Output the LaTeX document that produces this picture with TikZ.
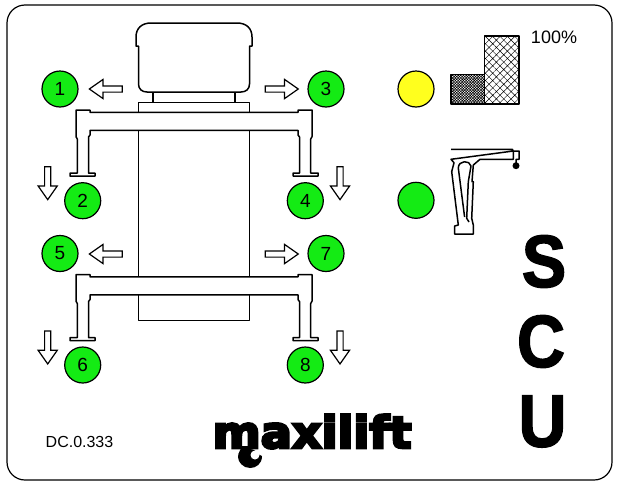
\documentclass[tikz,border=0pt]{standalone}
\usepackage{fontspec}
\setmainfont{Liberation Sans}
\newfontfamily\logofont[FakeBold=6]{DejaVu Sans Bold}
\newfontfamily\scufont[FakeBold=2]{Liberation Sans Bold}
\usetikzlibrary{shapes.arrows,patterns.meta}
\definecolor{lampgreen}{RGB}{20,235,20}
\definecolor{lampyellow}{RGB}{255,255,30}
\tikzset{
  lamp/.style={circle,draw=black,line width=1.2pt,fill=lampgreen,minimum size=36pt,inner sep=0pt,font=\fontsize{19}{19}\selectfont},
  blockarrow/.style={single arrow,draw=black,line width=1.2pt,fill=white,minimum height=33pt,text height=5pt,text depth=0pt,
    single arrow head extend=6.5pt,single arrow tip angle=70,inner sep=0pt,anchor=tip},
  bigletter/.style={inner sep=0pt,xscale=.9,transform shape,font=\fontsize{74}{74}\scufont},
  outline/.style={line width=1.5pt,line join=round}
}
\begin{document}
\begin{tikzpicture}[x=1pt,y=-1pt]
\useasboundingbox (0,0) rectangle (620,485);
\draw[line width=1.2pt,rounded corners=18pt] (7,5) rectangle (612,480);

% chassis
\draw[outline,fill=white] (138.5,46) -- (136,46) -- (136,37) .. controls (136,28) and (142,23) .. (151,23) -- (237,23)
  .. controls (246,23) and (252,28) .. (252,37) -- (252,46) -- (249.5,46) -- (249.5,84)
  .. controls (249.5,89) and (246,92) .. (241,92) -- (147,92) .. controls (142,92) and (138.5,89) .. (138.5,84) -- cycle;
\draw[outline] (153,92) -- (153,102.7) (235,92) -- (235,102.7);
\draw[outline] (138.5,320.7) rectangle (249.5,102.7);

% beams with legs
\foreach \dy in {0,164.5}
\draw[outline,fill=white,shift={(0,\dy)}]
  (90,112.3) -- (90,110) -- (76,110) -- (76,136.7) -- (77.3,139) -- (77.3,173) -- (70,173) -- (70,176)
  -- (95,176) -- (95,173) -- (88.5,173) -- (88.5,137) -- (90,135) -- (90,130.3)
  -- (298,130.3) -- (298,135) -- (299.5,137) -- (299.5,173) -- (293,173) -- (293,176)
  -- (318,176) -- (318,173) -- (310.7,173) -- (310.7,139) -- (312,136.7) -- (312,110) -- (298,110) -- (298,112.3) -- cycle;

% outriggers
\node[lamp] (n1) at (60,89) {1};
\node[lamp] (n2) at (82.7,200.7) {2};
\node[lamp] (n3) at (326,89) {3};
\node[lamp] (n4) at (305.3,200.7) {4};
\node[lamp] (n5) at (60,253.5) {5};
\node[lamp] (n6) at (82.7,365) {6};
\node[lamp] (n7) at (326,253.5) {7};
\node[lamp] (n8) at (305.3,365) {8};

\node[blockarrow,rotate=180] (a1) at (88.3,89) {};
\node[blockarrow] (a3) at (299.3,89) {};
\node[blockarrow,rotate=180] (a5) at (88.3,254) {};
\node[blockarrow] (a7) at (299.3,254) {};
\node[blockarrow,rotate=270] (a2) at (47.7,200.7) {};
\node[blockarrow,rotate=270] (a4) at (340,200.7) {};
\node[blockarrow,rotate=270] (a6) at (47.7,365) {};
\node[blockarrow,rotate=270] (a8) at (340,365) {};

% load indicator
\node[lamp,fill=lampyellow] (lampload) at (416,89) {};
\node[lamp] (lampcrane) at (416,200.3) {};
\draw[outline,pattern={Hatch[angle=45,distance=5.2pt,line width=.45pt]}] (484.3,36) rectangle (519,104);
\draw[outline,pattern={Hatch[angle=45,distance=1.9pt,line width=.55pt]}] (451,74.3) rectangle (484.3,104);
\draw[line width=2pt] (451,104) -- (519,104);
\node[inner sep=0pt,font=\fontsize{18}{18}\selectfont] (pct) at (554,37) {100\%};

% crane
\draw[outline] (451,149.3) -- (512.3,149.3) -- (513.3,151) -- (519,151) -- (519,159.3) -- (516,159.3) -- (516,163)
  (513.3,151) -- (513.3,159.3) -- (480,159.3) -- (473.3,165) -- (472,181.7) -- (473.3,181.7) -- (471.7,218.3) -- (473.3,225) -- (473.3,234)
  -- (454.7,234) -- (454.7,226) -- (458.3,225) -- (451.7,171.7) -- (454,162.7) -- (451,159.3) -- cycle
  (464.6,217) -- (458.3,168) .. controls (458.3,160) and (470,160) .. (471,166) -- (468.3,181.7) -- (466.7,218.3) -- (469,222);
\fill (516,165.7) circle (3.5pt);

\node[bigletter] (letterS) at (544,261.5) {S};
\node[bigletter] (letterC) at (541,341.5) {C};
\node[bigletter] (letterU) at (542.5,421.5) {U};

\node[inner sep=0pt,font=\fontsize{16}{16}\selectfont] (code) at (79.5,442) {DC.0.333};

% logo
\node[inner sep=0pt,anchor=base,xscale=1.05,transform shape,font=\fontsize{44}{44}\logofont] (logo) at (312,448) {maxilift};
\fill (242,446) -- (249,446) -- (249,449) .. controls (258,449) and (258,456) .. (262,456)
  .. controls (262,464) and (256,468) .. (250,468) .. controls (243,468) and (238,462) .. (238,457) .. controls (238,452) and (241,450) .. (242,446);
\fill[white] (255,455) circle (4.5pt);
\end{tikzpicture}
\end{document}
